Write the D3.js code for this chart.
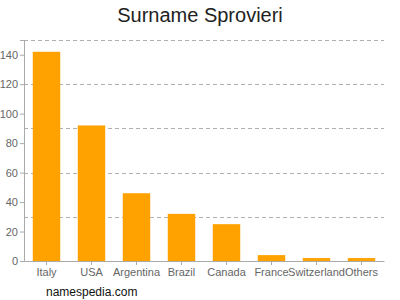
<!DOCTYPE html>
<html>
<head>
<meta charset="utf-8">
<script src="https://cdn.jsdelivr.net/npm/d3@7"></script>
<style>
  body { margin: 0; background: #fff; }
  text { font-family: "Liberation Sans", Arial, sans-serif; }
</style>
</head>
<body>
<script>
const countries = ["Italy", "USA", "Argentina", "Brazil", "Canada", "France", "Switzerland", "Others"];
const counts = [142, 92, 46, 32, 25, 4, 2, 2];
const yTicks = [0, 20, 40, 60, 80, 100, 120, 140];
const gridValues = [30, 60, 90, 120, 150];

const margin = { top: 40, right: 16, bottom: 39, left: 24 },
  width = 400 - margin.left - margin.right,
  height = 300 - margin.top - margin.bottom;

const svg = d3.select("body").append("svg")
  .attr("width", 400)
  .attr("height", 300);

svg.append("text")
  .attr("x", 200)
  .attr("y", 22)
  .attr("text-anchor", "middle")
  .attr("font-size", 20)
  .attr("fill", "#222")
  .text("Surname Sprovieri");

const g = svg.append("g")
  .attr("transform", "translate(" + margin.left + "," + margin.top + ")");

const x = d3.scaleBand()
  .domain(countries)
  .range([0, width])
  .paddingInner(0.39)
  .paddingOuter(0.195);

const y = d3.scaleLinear()
  .domain([0, 150])
  .range([height, 0]);

// dashed gridlines
g.selectAll(".grid")
  .data(gridValues)
  .enter().append("line")
  .attr("x1", 0)
  .attr("x2", width)
  .attr("y1", d => Math.round(y(d)) + 0.5)
  .attr("y2", d => Math.round(y(d)) + 0.5)
  .attr("stroke", "#b0b0b0")
  .attr("stroke-dasharray", "4,3");

g.selectAll(".bar")
  .data(countries)
  .enter().append("rect")
  .attr("x", d => x(d))
  .attr("width", x.bandwidth())
  .attr("y", (d, i) => y(counts[i]))
  .attr("height", (d, i) => height - y(counts[i]))
  .attr("fill", "#ffa200");

const yAxis = g.append("g")
  .call(d3.axisLeft(y).tickValues(yTicks).tickSize(4).tickPadding(2));
yAxis.select(".domain").attr("stroke", "#aaa");
yAxis.selectAll(".tick line").attr("stroke", "#aaa");
yAxis.selectAll("text").attr("fill", "#666").attr("font-size", 11);

const xAxis = g.append("g")
  .attr("transform", "translate(0," + height + ")")
  .call(d3.axisBottom(x).tickSize(4).tickSizeOuter(0).tickPadding(3));
xAxis.select(".domain").attr("stroke", "#aaa");
xAxis.selectAll(".tick line").attr("stroke", "#aaa");
xAxis.selectAll("text").attr("fill", "#666").attr("font-size", 11);

svg.append("text")
  .attr("x", 46)
  .attr("y", 296)
  .attr("font-size", 12)
  .attr("fill", "#111")
  .text("namespedia.com");
</script>
</body>
</html>
